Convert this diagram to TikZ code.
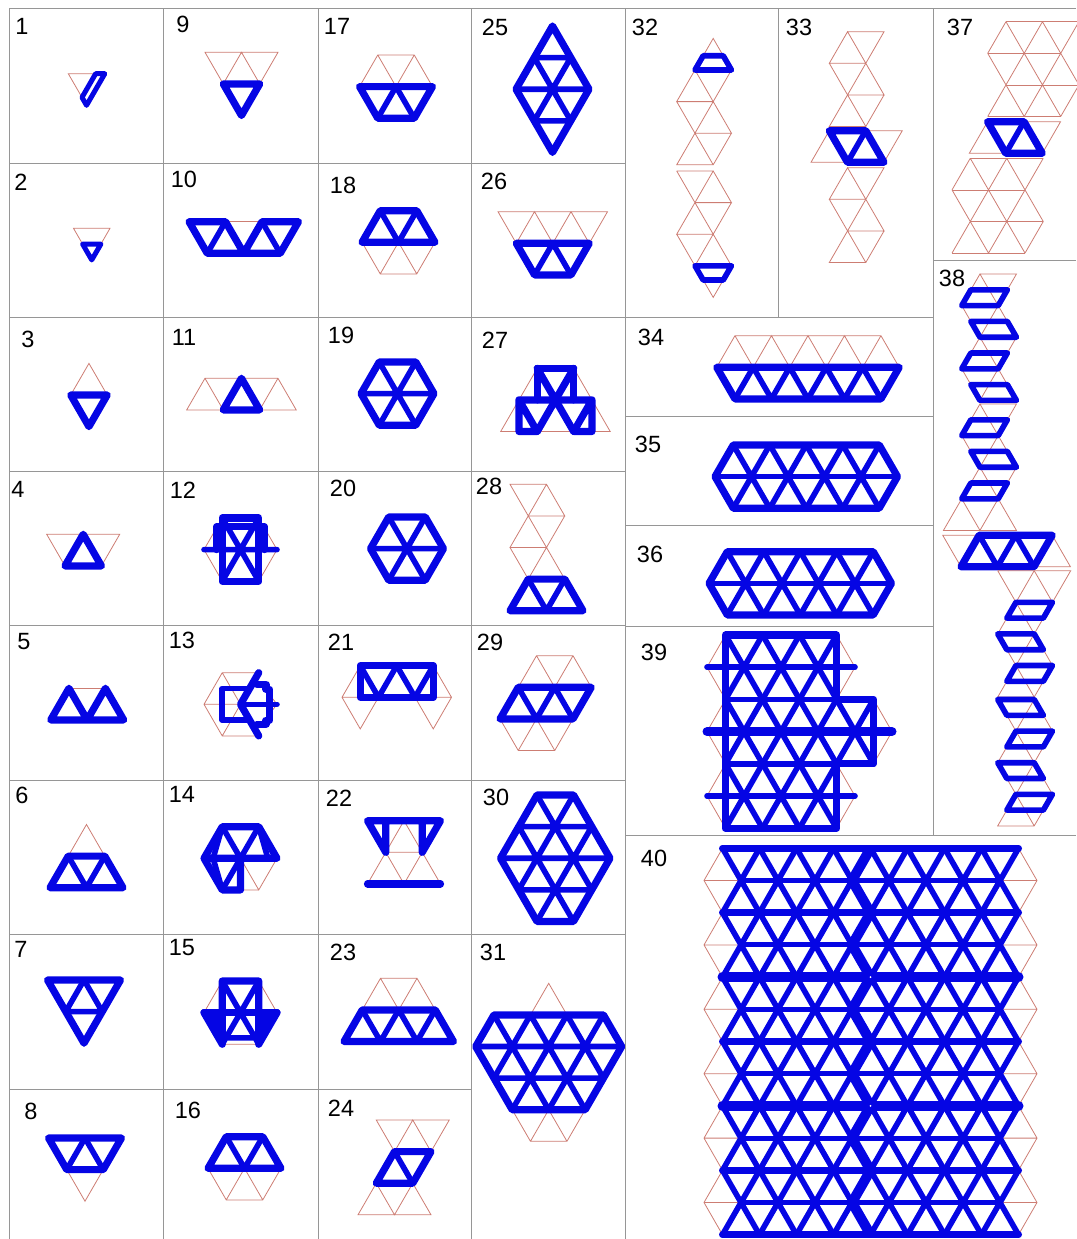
\documentclass[tikz,border=0pt]{standalone}
\usepackage{fontspec}
\setmainfont{Liberation Sans}
\definecolor{webred}{RGB}{205,125,115}
\definecolor{barblue}{RGB}{5,5,228}
\definecolor{cellgray}{RGB}{150,150,150}
\tikzset{
  cellline/.style={draw=cellgray,line width=1pt},
  web/.style={draw=webred,line width=0.8pt},
  rim/.style={draw=barblue,line width=7.2pt,line join=round,line cap=round},
  strut/.style={draw=barblue,line width=5.6pt,line join=round,line cap=round},
  tag/.style={font=\fontsize{23.5}{23.5}\selectfont,inner sep=0pt},
  lat/.style 2 args={shift={(#1,#2)},x=18.25pt,y=-31.6pt},
  latbig/.style 2 args={shift={(#1,#2)},x=18.5pt,y=-32.2pt},
}
\newcommand{\zigright}{\draw[web] (1,0)--(3,0)--(2,1)--(1,0)--(0,1)--(2,1)--(1,2)--(0,1) (2,1)--(3,2)--(1,2)--(0,3)--(2,3)--(3,2) (1,2)--(2,3);}
\newcommand{\zigleft}{\draw[web] (0,0)--(2,0)--(1,1)--(0,0) (2,0)--(3,1)--(1,1)--(0,2)--(2,2)--(1,1) (2,2)--(3,1) (0,2)--(1,3)--(3,3)--(2,2)--(1,3);}
\begin{document}
\begin{tikzpicture}[x=1pt,y=-1pt]
  \useasboundingbox (0,0) rectangle (1076,1239);
  % cell lines
  \draw[cellline] (9.5,1239)--(9.5,9)--(1076,9);
  \foreach \x in {163.5,318,471.5,625.5} \draw[cellline] (\x,9)--(\x,1239);
  \draw[cellline] (778.7,9)--(778.7,317);
  \draw[cellline] (933,9)--(933,835.7);
  \draw[cellline] (933,260)--(1076,260);
  \foreach \y in {163,317,471,625.7,780,934.7} \draw[cellline] (9.5,\y)--(625.5,\y);
  \draw[cellline] (9.5,1089)--(471.5,1089);
  \foreach \y in {317,416,525,626} \draw[cellline] (625.5,\y)--(933,\y);
  \draw[cellline] (625.5,835.7)--(1076,835.7);
  % numbers
  \foreach \x/\y/\t in {22/26/1,21/182/2,28/339/3,18/489/4,24/642/5,22/795/6,21/949/7,31/1111/8,
    183/24/9,184/179/10,184/337/11,183/490/12,182/640/13,182/794/14,182/948/15,188/1110/16,
    337/26/17,343/185/18,341/335/19,343/488/20,341/642/21,339/798/22,343/952/23,341/1108/24,
    495/27/25,494/181/26,495/340/27,489/486/28,490/642/29,496/797/30,493/952/31,
    645/27/32,799/27/33,651/337/34,648/444/35,650/554/36,960/27/37,952/278/38,654/652/39,654/858/40}
    \node[tag] (n\t) at (\x,\y) {\t};
  % 1 and 2
  \begin{scope}[lat={68.3}{73.7}]
    \draw[web] (0,0)--(2,0)--(1,1)--cycle;
    \draw[strut,line width=5pt] (1.5,0)--(2,0)--(1,1)--(.75,.75)--cycle;
  \end{scope}
  \begin{scope}[lat={73.5}{228.3}]
    \draw[web] (0,0)--(2,0)--(1,1)--cycle;
    \draw[strut,line width=5pt] (.5,.5)--(1.5,.5)--(1,1)--cycle;
  \end{scope}
  % 3 and 4
  \begin{scope}[lat={70.7}{363.4}]
    \draw[web] (0,1)--(1,0)--(2,1);
    \draw[rim] (0,1)--(2,1)--(1,2)--cycle;
  \end{scope}
  \begin{scope}[lat={46.7}{534.3}]
    \draw[web] (0,0)--(4,0)--(3,1)--(1,1)--cycle (1,1)--(2,0)--(3,1);
    \draw[rim] (1,1)--(2,0)--(3,1)--cycle;
  \end{scope}
  % 5 and 6
  \begin{scope}[lat={50.7}{688.3}]
    \draw[web] (1,0)--(3,0);
    \draw[rim] (0,1)--(1,0)--(2,1)--(3,0)--(4,1)--cycle;
  \end{scope}
  \begin{scope}[lat={50}{824.5}]
    \draw[web] (1,1)--(2,0)--(3,1);
    \draw[rim] (0,2)--(1,1)--(3,1)--(4,2)--cycle;
    \draw[strut] (1,1)--(2,2)--(3,1);
  \end{scope}
  % 7 and 8
  \begin{scope}[lat={47.5}{980}]
    \draw[rim] (0,0)--(4,0)--(2,2)--cycle;
    \draw[strut] (1,1)--(3,1) (1,1)--(2,0)--(3,1);
  \end{scope}
  \begin{scope}[lat={48.5}{1138}]
    \draw[web] (1,1)--(2,2)--(3,1);
    \draw[rim] (0,0)--(4,0)--(3,1)--(1,1)--cycle;
    \draw[strut] (1,1)--(2,0)--(3,1);
  \end{scope}
  % 9 and 10
  \begin{scope}[lat={205}{52.3}]
    \draw[web] (0,0)--(4,0)--(3,1)--(1,1)--cycle (1,1)--(2,0)--(3,1);
    \draw[rim] (1,1)--(3,1)--(2,2)--cycle;
  \end{scope}
  \begin{scope}[lat={189}{221.7}]
    \draw[web] (2,0)--(4,0);
    \draw[rim] (0,0)--(2,0)--(3,1)--(4,0)--(6,0)--(5,1)--(1,1)--cycle;
    \draw[strut] (1,1)--(2,0) (4,0)--(5,1);
  \end{scope}
  % 11 and 12
  \begin{scope}[lat={186.7}{378.3}]
    \draw[web] (0,1)--(1,0)--(5,0)--(6,1)--cycle (1,0)--(2,1) (4,1)--(5,0);
    \draw[rim] (2,1)--(3,0)--(4,1)--cycle;
  \end{scope}
  \begin{scope}[lat={204}{518}]
    \draw[web] (1,0)--(0,1)--(1,2) (3,0)--(4,1)--(3,2);
    \draw[rim] (1,0)--(3,0)--(3,2)--(1,2)--cycle;
    \draw[rim] (.7,1)--(.7,.28)--(3.3,.28)--(3.3,1);
    \draw[strut] (0,1)--(4,1) (1,0)--(3,2) (3,0)--(1,2);
  \end{scope}
  % 13 and 14
  \begin{scope}[lat={204}{672.7}]
    \draw[web] (3,0)--(1,0)--(0,1)--(1,2)--(3,2) (0,1)--(2,1) (1,0)--(2,1)--(1,2) (3.6,.7)--(4,1)--(3.6,1.3);
    \draw[strut] (2.5,.5)--(1,.5)--(1,1.5)--(2.5,1.5);
    \draw[rim] (3,0)--(2,1)--(3,2);
    \draw[strut] (2,1)--(4,1);
    \draw[rim] (2.9,.37)--(3.4,.37)--(3.4,.52)--(3.6,.52)--(3.6,1.5)--(3.4,1.5)--(3.4,1.63)--(2.9,1.63);
  \end{scope}
  \begin{scope}[lat={204}{826.7}]
    \draw[web] (2,1)--(3,2)--(4,1) (2,2)--(3,2);
    \draw[rim] (2,1)--(2,2)--(1,2)--(0,1)--(1,0)--(3,0)--(4,1)--(0,1);
    \draw[strut] (1,0)--(2,1)--(3,0) (2,1)--(1,2) (1,0)--(.5,1)--(1,2) (3,0)--(3.5,1);
  \end{scope}
  % 15 and 16
  \begin{scope}[lat={204}{981}]
    \draw[web] (1,0)--(0,1) (3,0)--(4,1) (1,2)--(3,2);
    \fill[barblue] (0,1)--(1,1)--(1,2)--cycle (4,1)--(3,1)--(3,2)--cycle;
    \draw[rim] (1,0)--(3,0)--(3,2) (1,0)--(1,2) (0,1)--(1,2) (4,1)--(3,2);
    \draw[rim] (0,1)--(4,1);
    \draw[strut] (1,0)--(3,2) (3,0)--(1,2) (1,1.8)--(3,1.8);
  \end{scope}
  % 16, 18 same shape
  \foreach \ox/\oy in {208/1136.7,362/210.7} {
    \begin{scope}[lat={\ox}{\oy}]
      \draw[web] (0,1)--(1,2)--(3,2)--(4,1) (1,2)--(2,1)--(3,2);
      \draw[rim] (0,1)--(1,0)--(3,0)--(4,1)--cycle;
      \draw[strut] (1,0)--(2,1)--(3,0);
    \end{scope}
  }
  % 17
  \begin{scope}[lat={359.5}{55}]
    \draw[web] (0,1)--(1,0)--(3,0)--(4,1) (1,0)--(2,1)--(3,0);
    \draw[rim] (0,1)--(4,1)--(3,2)--(1,2)--cycle;
    \draw[strut] (1,2)--(2,1)--(3,2);
  \end{scope}
  % 19 and 20
  \foreach \ox/\oy in {361/362,370.5/517} {
    \begin{scope}[lat={\ox}{\oy}]
      \draw[rim] (1,0)--(3,0)--(4,1)--(3,2)--(1,2)--(0,1)--cycle;
      \draw[strut] (0,1)--(4,1) (1,0)--(3,2) (3,0)--(1,2);
    \end{scope}
  }
  % 21 and 22
  \begin{scope}[lat={342}{665.7}]
    \draw[web] (0,1)--(6,1) (0,1)--(1,0) (5,0)--(6,1)--(5,2)--(4,1) (0,1)--(1,2)--(2,1);
    \draw[rim] (1,0)--(5,0)--(5,1)--(1,1)--cycle;
    \draw[strut] (1,0)--(2,1)--(3,0)--(4,1)--(5,0);
  \end{scope}
  \begin{scope}[lat={367.5}{820.7}]
    \draw[web] (1,1)--(2,0)--(3,1)--cycle (1,1)--(0,2) (1,1)--(2,2)--(3,1)--(4,2);
    \draw[rim] (1,0)--(1,1)--(0,0)--(4,0)--(3,1)--(3,0);
    \draw[rim] (0,2)--(4,2);
  \end{scope}
  % 23 and 24
  \begin{scope}[lat={344}{978.3}]
    \draw[web] (1,1)--(2,0)--(4,0)--(5,1) (2,0)--(3,1)--(4,0);
    \draw[rim] (0,2)--(1,1)--(5,1)--(6,2)--cycle;
    \draw[strut] (1,1)--(2,2)--(3,1)--(4,2)--(5,1);
  \end{scope}
  \begin{scope}[lat={358}{1120}]
    \draw[web] (2,1)--(1,0)--(5,0)--(4,1) (2,1)--(3,0)--(4,1) (1,2)--(0,3)--(4,3)--(3,2) (1,2)--(2,3)--(3,2);
    \draw[rim] (2,1)--(4,1)--(3,2)--(1,2)--cycle;
    \draw[strut] (2,1)--(3,2);
  \end{scope}
  % 25 and 26
  \begin{scope}[lat={516}{26}]
    \draw[rim] (2,0)--(4,2)--(2,4)--(0,2)--cycle;
    \draw[strut] (1,1)--(3,1) (0,2)--(4,2) (1,3)--(3,3) (1,1)--(3,3) (3,1)--(1,3);
  \end{scope}
  \begin{scope}[lat={498}{211.7}]
    \draw[web] (1,1)--(0,0)--(6,0)--(5,1) (1,1)--(2,0)--(3,1)--(4,0)--(5,1);
    \draw[rim] (1,1)--(5,1)--(4,2)--(2,2)--cycle;
    \draw[strut] (2,2)--(3,1)--(4,2);
  \end{scope}
  % 27 and 28
  \begin{scope}[lat={500.7}{368.3}]
    \draw[web] (2,0)--(0,2)--(6,2)--(4,0);
    \draw[rim] (2,1)--(2,0)--(4,0)--(4,1);
    \draw[rim] (1,1)--(5,1)--(5,2)--(4,2)--(5,1) (1,1)--(1,2)--(2,2)--(1,1);
    \draw[rim] (2,0)--(4,2) (4,0)--(2,2);
  \end{scope}
  \begin{scope}[lat={510}{484.3}]
    \draw[web] (0,0)--(2,0)--(3,1)--(1,1)--cycle (1,1)--(2,0) (1,1)--(2,2)--(3,1) (1,1)--(0,2)--(2,2) (0,2)--(1,3)--(2,2)--(3,3);
    \draw[rim] (0,4)--(1,3)--(3,3)--(4,4)--cycle;
    \draw[strut] (1,3)--(2,4)--(3,3);
  \end{scope}
  % 29 and 30
  \begin{scope}[lat={500}{655.7}]
    \draw[web] (1,1)--(2,0)--(4,0)--(5,1) (2,0)--(3,1)--(4,0) (0,2)--(1,3)--(3,3)--(4,2) (1,3)--(2,2)--(3,3);
    \draw[rim] (1,1)--(5,1)--(4,2)--(0,2)--cycle;
    \draw[strut] (1,1)--(2,2)--(3,1)--(4,2);
  \end{scope}
  \begin{scope}[lat={500.5}{795}]
    \draw[rim] (2,0)--(4,0)--(6,2)--(4,4)--(2,4)--(0,2)--cycle;
    \draw[strut] (1,1)--(5,1) (0,2)--(6,2) (1,3)--(5,3) (2,0)--(5,3) (1,1)--(4,4) (4,0)--(1,3) (5,1)--(2,4);
  \end{scope}
  % 31
  \begin{scope}[lat={475.7}{983.3}]
    \draw[web] (3,1)--(4,0)--(5,1) (2,4)--(3,5)--(5,5)--(6,4) (3,5)--(4,4)--(5,5);
    \draw[rim] (1,1)--(7,1)--(8,2)--(6,4)--(2,4)--(0,2)--cycle;
    \draw[strut] (0,2)--(8,2) (1,3)--(7,3) (1,1)--(4,4) (3,1)--(6,4) (5,1)--(7,3) (3,1)--(1,3) (5,1)--(2,4) (7,1)--(4,4);
  \end{scope}
  % 32
  \begin{scope}[lat={676.7}{70}]
    \zigright
    \draw[web] (1,0)--(2,-1)--(3,0);
    \draw[strut] (1,0)--(3,0)--(2.55,-.45)--(1.45,-.45)--cycle;
  \end{scope}
  \begin{scope}[lat={676.7}{171}]
    \zigleft
    \draw[web] (1,3)--(2,4)--(3,3);
    \draw[strut] (1,3)--(3,3)--(2.55,3.45)--(1.45,3.45)--cycle;
  \end{scope}
  % 33
  \foreach \oy in {31.7,167.7} {
    \begin{scope}[lat={829.3}{\oy}]
      \zigright
    \end{scope}
  }
  \begin{scope}[lat={811}{130.7}]
    \draw[web] (1,0)--(0,1)--(2,1) (3,0)--(5,0)--(4,1);
    \draw[rim] (1,0)--(3,0)--(4,1)--(2,1)--cycle;
    \draw[strut] (2,1)--(3,0);
  \end{scope}
  % 34
  \begin{scope}[lat={716.7}{335.7}]
    \draw[web] (0,1)--(1,0)--(9,0)--(10,1) (1,0)--(2,1)--(3,0)--(4,1)--(5,0)--(6,1)--(7,0)--(8,1)--(9,0);
    \draw[rim] (0,1)--(10,1)--(9,2)--(1,2)--cycle;
    \draw[strut] (1,2)--(2,1)--(3,2)--(4,1)--(5,2)--(6,1)--(7,2)--(8,1)--(9,2);
  \end{scope}
  % 35 and 36
  \foreach \ox/\oy in {715/445,709/551.7} {
    \begin{scope}[lat={\ox}{\oy}]
      \draw[rim] (1,0)--(9,0)--(10,1)--(9,2)--(1,2)--(0,1)--cycle;
      \draw[strut] (0,1)--(10,1);
      \foreach \u in {2,4,6,8} \draw[strut] (\u-1,0)--(\u+1,2) (\u+1,0)--(\u-1,2);
    \end{scope}
  }
  % 37
  \foreach \ox/\oy in {987.7/21.7,952/158.3} {
    \begin{scope}[lat={\ox}{\oy}]
      \draw[web] (1,0)--(5,0) (0,1)--(4,1) (1,2)--(5,2) (0,3)--(4,3);
      \draw[web] (1,0)--(4,3) (0,1)--(2,3) (3,0)--(5,2) (1,0)--(0,1) (3,0)--(0,3) (5,0)--(2,3) (5,2)--(4,3);
    \end{scope}
  }
  \begin{scope}[lat={969.3}{121.7}]
    \draw[web] (1,0)--(0,1)--(2,1) (3,0)--(5,0)--(4,1);
    \draw[rim] (1,0)--(3,0)--(4,1)--(2,1)--cycle;
    \draw[strut] (2,1)--(3,0);
  \end{scope}
  % 38
  \begin{scope}[lat={961.7}{274}]
    \zigright
    \draw[web] (0,3)--(1,4)--(3,4)--(2,3)--(1,4);
    \draw[strut] (.5,.5)--(2.5,.5)--(2,1)--(0,1)--cycle;
    \draw[strut] (.5,1.5)--(2.5,1.5)--(3,2)--(1,2)--cycle;
    \draw[strut] (.5,2.5)--(2.5,2.5)--(2,3)--(0,3)--cycle;
    \draw[strut] (.5,3.5)--(2.5,3.5)--(3,4)--(1,4)--cycle;
  \end{scope}
  \begin{scope}[lat={961.7}{404}]
    \zigright
    \draw[web] (0,3)--(-1,4)--(3,4)--(2,3)--(1,4)--(0,3);
    \draw[strut] (.5,.5)--(2.5,.5)--(2,1)--(0,1)--cycle;
    \draw[strut] (.5,1.5)--(2.5,1.5)--(3,2)--(1,2)--cycle;
    \draw[strut] (.5,2.5)--(2.5,2.5)--(2,3)--(0,3)--cycle;
  \end{scope}
  \begin{scope}[lat={942.7}{535.2}]
    \draw[web] (2,0)--(0,0)--(1,1) (6,0)--(7,1)--(5,1);
    \draw[rim] (2,0)--(6,0)--(5,1)--(1,1)--cycle;
    \draw[strut] (1,1)--(2,0)--(3,1)--(4,0)--(5,1);
  \end{scope}
  \begin{scope}[lat={997.7}{570.7}]
    \zigleft
    \draw[web] (2,0)--(4,0)--(3,1) (1,3)--(0,4)--(2,4)--(3,3) (2,4)--(1,3);
    \draw[strut] (1,1)--(3,1)--(2.5,1.5)--(.5,1.5)--cycle;
    \draw[strut] (0,2)--(2,2)--(2.5,2.5)--(.5,2.5)--cycle;
    \draw[strut] (1,3)--(3,3)--(2.5,3.5)--(.5,3.5)--cycle;
  \end{scope}
  \begin{scope}[lat={997.7}{699.5}]
    \zigleft
    \draw[web] (1,3)--(0,4)--(2,4)--(3,3) (2,4)--(1,3);
    \draw[strut] (0,0)--(2,0)--(2.5,.5)--(.5,.5)--cycle;
    \draw[strut] (1,1)--(3,1)--(2.5,1.5)--(.5,1.5)--cycle;
    \draw[strut] (0,2)--(2,2)--(2.5,2.5)--(.5,2.5)--cycle;
    \draw[strut] (1,3)--(3,3)--(2.5,3.5)--(.5,3.5)--cycle;
  \end{scope}
  % 39
  \begin{scope}[latbig={707}{635}]
    \draw[web] (1,0)--(0,1)--(1,2)--(0,3)--(1,4)--(0,5)--(1,6) (7,0)--(8,1)--(7,2) (9,2)--(10,3)--(9,4) (7,4)--(8,5)--(7,6);
    \draw[strut] (0,1)--(8,1) (1,2)--(9,2) (1,4)--(9,4) (0,5)--(8,5);
    \draw[strut] (1,0)--(7,6) (3,0)--(7,4) (5,0)--(9,4) (1,2)--(5,6) (1,4)--(3,6);
    \draw[strut] (3,0)--(1,2) (5,0)--(1,4) (7,0)--(1,6) (7,2)--(3,6) (9,2)--(5,6);
    \draw[rim] (1,0)--(7,0)--(7,2)--(9,2)--(9,4)--(7,4)--(7,6)--(1,6)--cycle;
    \draw[rim,line width=9pt] (0,3)--(10,3);
  \end{scope}
  % 40
  \begin{scope}[latbig={704}{848.3}]
    \foreach \v in {1,3,...,11} {
      \draw[web] (1,\v-1)--(0,\v)--(1,\v+1) (17,\v-1)--(18,\v)--(17,\v+1) (0,\v)--(2,\v) (16,\v)--(18,\v);
      \draw[strut,line width=5pt] (2,\v)--(16,\v);
      \foreach \u in {2,4,...,16} \draw[strut] (\u-1,\v-1)--(\u+1,\v+1) (\u+1,\v-1)--(\u-1,\v+1);
    }
    \foreach \v/\w in {0/7,2/7,4/10,6/7,8/10,10/7,12/7} \draw[rim,line width=\w pt] (1,\v)--(17,\v);
    \draw[rim,line width=10pt,line cap=butt] (9,0)--(8,1)--(9,2)--(8,3)--(9,4)--(8,5)--(9,6)--(8,7)--(9,8)--(8,9)--(9,10)--(8,11)--(9,12);
    \fill[white] (9,4) circle (1pt) (9,8) circle (1pt);
  \end{scope}
\end{tikzpicture}
\end{document}
